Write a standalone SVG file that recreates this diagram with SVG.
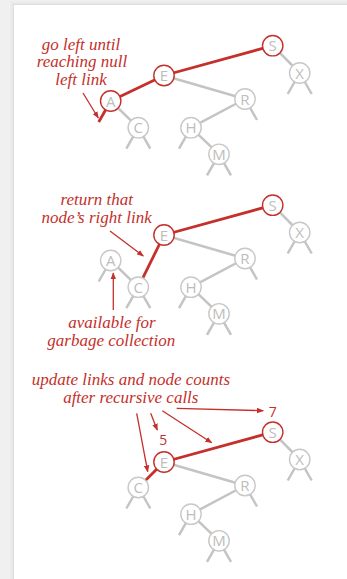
<svg xmlns="http://www.w3.org/2000/svg" width="347" height="579" viewBox="0 0 347 579">
<style>
.bg{fill:#f0f0f0}
.gl{stroke:#c4c4c4;stroke-width:2.5;fill:none;stroke-linecap:butt}
.rl{stroke:#c4302b;stroke-width:2.8;fill:none}
.ar{stroke:#c4302b;stroke-width:1.3;fill:none;marker-end:url(#ah)}
.nd circle{fill:#fff;stroke:#c8c8c8;stroke-width:1.4}
.nd.red circle{stroke:#c4302b}
.nd text{font-family:"Open Sans",sans-serif;font-size:15px;fill:#bdbdbd;text-anchor:middle}
.ann{font-family:"Liberation Serif",serif;font-style:italic;font-size:17px;fill:#c4302b;text-anchor:middle}
.num{font-family:"Open Sans",sans-serif;font-size:14px;fill:#c4302b;text-anchor:middle}
</style>
<defs>
<marker id="ah" viewBox="0 0 10 10" refX="9" refY="5" markerWidth="7" markerHeight="7" orient="auto" markerUnits="userSpaceOnUse">
<path d="M0,1 L10,5 L0,9 z" fill="#c4302b"/>
</marker>
</defs>
<rect class="bg" x="0" y="0" width="347" height="579"/>
<rect x="10" y="1" width="337" height="578" fill="#ececec"/>
<rect x="12" y="3" width="335" height="576" fill="#e6e6e6"/>
<rect x="13" y="4" width="334" height="575" fill="#dedede"/>
<rect x="14" y="5" width="333" height="574" fill="#ffffff"/>

<!-- Panel 1 -->
<g id="p1-links">
<line class="gl" x1="272.7" y1="45.7" x2="299.7" y2="73"/>
<line class="gl" x1="164" y1="75.5" x2="245" y2="99"/>
<line class="gl" x1="245" y1="99" x2="191" y2="127.7"/>
<line class="gl" x1="191" y1="127.7" x2="219" y2="154.3"/>
<line class="gl" x1="110.7" y1="101" x2="138.3" y2="127.7"/>
<line class="gl" x1="299.7" y1="73" x2="287.7" y2="94"/>
<line class="gl" x1="299.7" y1="73" x2="311.7" y2="94"/>
<line class="gl" x1="245" y1="99" x2="257" y2="120"/>
<line class="gl" x1="138.3" y1="127.7" x2="126.3" y2="148.7"/>
<line class="gl" x1="138.3" y1="127.7" x2="150.3" y2="148.7"/>
<line class="gl" x1="191" y1="127.7" x2="179" y2="148.7"/>
<line class="gl" x1="219" y1="154.3" x2="207" y2="175.3"/>
<line class="gl" x1="219" y1="154.3" x2="231" y2="175.3"/>
<line class="rl" x1="272.7" y1="45.7" x2="164" y2="75.5"/>
<line class="rl" x1="164" y1="75.5" x2="110.7" y2="101"/>
<line class="rl" x1="110.7" y1="101" x2="98.7" y2="122"/>
<line class="ar" x1="83" y1="93" x2="98.3" y2="118"/>
</g>
<g id="p1-S" class="nd red"><circle cx="272.7" cy="45.7" r="10.2"/><text x="272.7" y="51.2">S</text></g>
<g id="p1-X" class="nd"><circle cx="299.7" cy="73" r="10.2"/><text x="299.7" y="78.5">X</text></g>
<g id="p1-E" class="nd red"><circle cx="164" cy="75.5" r="10.2"/><text x="164" y="81">E</text></g>
<g id="p1-R" class="nd"><circle cx="245" cy="99" r="10.2"/><text x="245" y="104.5">R</text></g>
<g id="p1-A" class="nd red"><circle cx="110.7" cy="101" r="10.2"/><text x="110.7" y="106.5">A</text></g>
<g id="p1-C" class="nd"><circle cx="138.3" cy="127.7" r="10.2"/><text x="138.3" y="133.2">C</text></g>
<g id="p1-H" class="nd"><circle cx="191" cy="127.7" r="10.2"/><text x="191" y="133.2">H</text></g>
<g id="p1-M" class="nd"><circle cx="219" cy="154.3" r="10.2"/><text x="219" y="159.8">M</text></g>
<g id="p1-note">
<text class="ann" x="81" y="49.5">go left until</text>
<text class="ann" x="82" y="67">reaching null</text>
<text class="ann" x="81" y="84.5">left link</text>
</g>

<!-- Panel 2 -->
<g id="p2-links">
<line class="gl" x1="272.7" y1="205.2" x2="299.7" y2="232.5"/>
<line class="gl" x1="164" y1="235" x2="245" y2="258.5"/>
<line class="gl" x1="245" y1="258.5" x2="191" y2="287.2"/>
<line class="gl" x1="191" y1="287.2" x2="219" y2="313.8"/>
<line class="gl" x1="110.7" y1="260.5" x2="138.3" y2="287.2"/>
<line class="gl" x1="110.7" y1="260.5" x2="98.7" y2="281.5"/>
<line class="gl" x1="299.7" y1="232.5" x2="287.7" y2="253.5"/>
<line class="gl" x1="299.7" y1="232.5" x2="311.7" y2="253.5"/>
<line class="gl" x1="245" y1="258.5" x2="257" y2="279.5"/>
<line class="gl" x1="138.3" y1="287.2" x2="126.3" y2="308.2"/>
<line class="gl" x1="138.3" y1="287.2" x2="150.3" y2="308.2"/>
<line class="gl" x1="191" y1="287.2" x2="179" y2="308.2"/>
<line class="gl" x1="219" y1="313.8" x2="207" y2="334.8"/>
<line class="gl" x1="219" y1="313.8" x2="231" y2="334.8"/>
<line class="rl" x1="272.7" y1="205.2" x2="164" y2="235"/>
<line class="rl" x1="164" y1="235" x2="138.3" y2="287.2"/>
<line class="ar" x1="110" y1="231" x2="143.3" y2="256"/>
<line class="ar" x1="113.3" y1="310" x2="113.3" y2="273"/>
</g>
<g id="p2-S" class="nd red"><circle cx="272.7" cy="205.2" r="10.2"/><text x="272.7" y="210.7">S</text></g>
<g id="p2-X" class="nd"><circle cx="299.7" cy="232.5" r="10.2"/><text x="299.7" y="238">X</text></g>
<g id="p2-E" class="nd red"><circle cx="164" cy="235" r="10.2"/><text x="164" y="240.5">E</text></g>
<g id="p2-R" class="nd"><circle cx="245" cy="258.5" r="10.2"/><text x="245" y="264">R</text></g>
<g id="p2-A" class="nd"><circle cx="110.7" cy="260.5" r="10.2"/><text x="110.7" y="266">A</text></g>
<g id="p2-C" class="nd"><circle cx="138.3" cy="287.2" r="10.2"/><text x="138.3" y="292.7">C</text></g>
<g id="p2-H" class="nd"><circle cx="191" cy="287.2" r="10.2"/><text x="191" y="292.7">H</text></g>
<g id="p2-M" class="nd"><circle cx="219" cy="313.8" r="10.2"/><text x="219" y="319.3">M</text></g>
<g id="p2-note">
<text class="ann" x="96.7" y="205">return that</text>
<text class="ann" x="96.7" y="222.5">node’s right link</text>
<text class="ann" x="112" y="328">available for</text>
<text class="ann" x="111.3" y="345.5">garbage collection</text>
</g>

<!-- Panel 3 -->
<g id="p3-links">
<line class="gl" x1="272.7" y1="432.2" x2="299.7" y2="459.5"/>
<line class="gl" x1="164" y1="462" x2="245" y2="485.5"/>
<line class="gl" x1="245" y1="485.5" x2="191" y2="514.2"/>
<line class="gl" x1="191" y1="514.2" x2="219" y2="540.8"/>
<line class="gl" x1="299.7" y1="459.5" x2="287.7" y2="480.5"/>
<line class="gl" x1="299.7" y1="459.5" x2="311.7" y2="480.5"/>
<line class="gl" x1="245" y1="485.5" x2="257" y2="506.5"/>
<line class="gl" x1="138.3" y1="487.5" x2="126.3" y2="508.5"/>
<line class="gl" x1="138.3" y1="487.5" x2="150.3" y2="508.5"/>
<line class="gl" x1="191" y1="514.2" x2="179" y2="535.2"/>
<line class="gl" x1="219" y1="540.8" x2="207" y2="561.8"/>
<line class="gl" x1="219" y1="540.8" x2="231" y2="561.8"/>
<line class="rl" x1="272.7" y1="432.2" x2="164" y2="462"/>
<line class="rl" x1="164" y1="462" x2="138.3" y2="487.5"/>
<line class="ar" x1="136.7" y1="413.3" x2="147.7" y2="471.7"/>
<line class="ar" x1="150.7" y1="413.3" x2="157.3" y2="430"/>
<line class="ar" x1="162.3" y1="410.7" x2="211.7" y2="442.7"/>
<line class="ar" x1="176.7" y1="408.3" x2="263.3" y2="410.7"/>
</g>
<g id="p3-S" class="nd red"><circle cx="272.7" cy="432.2" r="10.2"/><text x="272.7" y="437.7">S</text></g>
<g id="p3-X" class="nd"><circle cx="299.7" cy="459.5" r="10.2"/><text x="299.7" y="465">X</text></g>
<g id="p3-E" class="nd red"><circle cx="164" cy="462" r="10.2"/><text x="164" y="467.5">E</text></g>
<g id="p3-R" class="nd"><circle cx="245" cy="485.5" r="10.2"/><text x="245" y="491">R</text></g>
<g id="p3-C" class="nd"><circle cx="138.3" cy="487.5" r="10.2"/><text x="138.3" y="493">C</text></g>
<g id="p3-H" class="nd"><circle cx="191" cy="514.2" r="10.2"/><text x="191" y="519.7">H</text></g>
<g id="p3-M" class="nd"><circle cx="219" cy="540.8" r="10.2"/><text x="219" y="546.3">M</text></g>
<g id="p3-note">
<text class="ann" x="131" y="385">update links and node counts</text>
<text class="ann" x="130.8" y="402.5">after recursive calls</text>
<text class="num" x="272.7" y="417">7</text>
<text class="num" x="163.3" y="445">5</text>
</g>
</svg>
